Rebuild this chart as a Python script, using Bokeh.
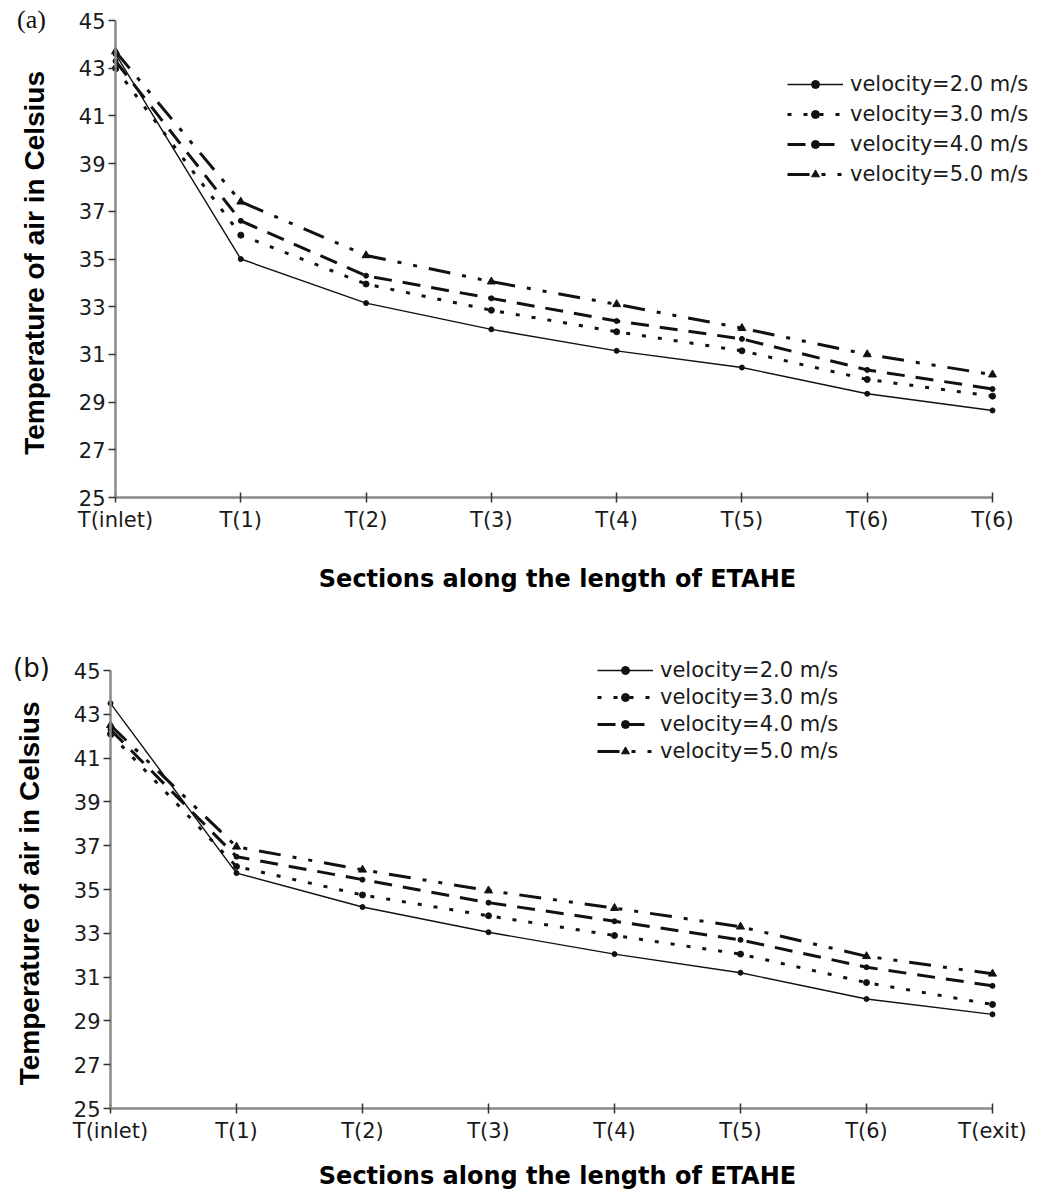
from bokeh.plotting import figure
from bokeh.models import Range1d, FixedTicker, Legend, LegendItem, Label
from bokeh.layouts import column
from bokeh.embed import file_html
from bokeh.resources import INLINE

# ---- data ----
sections = [0, 1, 2, 3, 4, 5, 6, 7]
a_tick_labels = ["T(inlet)", "T(1)", "T(2)", "T(3)", "T(4)", "T(5)", "T(6)", "T(6)"]
b_tick_labels = ["T(inlet)", "T(1)", "T(2)", "T(3)", "T(4)", "T(5)", "T(6)", "T(exit)"]
y_ticks = [25, 27, 29, 31, 33, 35, 37, 39, 41, 43, 45]
series_names = ["velocity=2.0 m/s", "velocity=3.0 m/s", "velocity=4.0 m/s", "velocity=5.0 m/s"]
x_title = "Sections along the length of ETAHE"
y_title = "Temperature of air in  Celsius"

a_v2 = [43.6, 35.0, 33.15, 32.05, 31.15, 30.45, 29.35, 28.65]
a_v3 = [43.0, 36.0, 33.95, 32.85, 31.95, 31.15, 29.95, 29.25]
a_v4 = [43.3, 36.6, 34.3, 33.35, 32.4, 31.65, 30.35, 29.55]
a_v5 = [43.7, 37.4, 35.15, 34.05, 33.1, 32.1, 31.0, 30.15]

b_v2 = [43.5, 35.75, 34.2, 33.05, 32.05, 31.2, 30.0, 29.3]
b_v3 = [42.1, 36.05, 34.75, 33.8, 32.9, 32.05, 30.75, 29.75]
b_v4 = [42.3, 36.5, 35.45, 34.4, 33.55, 32.7, 31.45, 30.6]
b_v5 = [42.5, 36.95, 35.9, 34.95, 34.15, 33.3, 31.95, 31.15]

# ---- styles ----
STYLES = [
    dict(dash="solid", width=1.4, marker="circle", size=5),
    dict(dash="4 12", width=3, marker="circle", size=6),
    dict(dash="18 11", width=3, marker="circle", size=5),
    dict(dash="22 12 4 12 4 12", width=3, marker="triangle", size=8),
]
INK = "#111111"
AXIS_GRAY = "#8a8a8a"
W = 1056


def make_fig(height, axis_x, top_px, bottom_px, tick_labels, series, panel_text, panel_font,
             panel_size, panel_xy, legend_xy, legend_spacing, title_y):
    # frame spans the whole canvas; both axes are pinned at the data origin (x=0, y=25)
    x_scale = (992 - axis_x) / 7.0
    x0 = -axis_x / x_scale
    x1 = 7 + (W - 992) / x_scale
    y_scale = (bottom_px - top_px) / 20.0
    y1 = 45 + top_px / y_scale
    y0 = 25 - (height - bottom_px) / y_scale
    p = figure(width=W, height=height, output_backend="svg", toolbar_location=None,
               x_range=Range1d(x0, x1), y_range=Range1d(y0, y1),
               min_border_left=0, min_border_right=0,
               min_border_top=0, min_border_bottom=0)
    p.outline_line_color = None
    p.xgrid.visible = False
    p.ygrid.visible = False

    p.xaxis.ticker = FixedTicker(ticks=sections)
    p.xaxis.bounds = (0, 7)
    p.xaxis.fixed_location = 25
    p.xaxis.major_label_overrides = {s: lab for s, lab in zip(sections, tick_labels)}
    p.yaxis.ticker = FixedTicker(ticks=y_ticks)
    p.yaxis.bounds = (25, 45)
    p.yaxis.fixed_location = 0
    for ax in (p.xaxis, p.yaxis):
        ax.axis_line_color = AXIS_GRAY
        ax.axis_line_width = 2.5
        ax.major_tick_line_color = "#333333"
        ax.major_tick_line_width = 1.5
        ax.minor_tick_line_color = None
        ax.major_label_text_font = "DejaVu Sans"
        ax.major_label_text_font_size = "21px"
        ax.major_label_text_color = "#1a1a1a"
        ax.axis_label_text_font_style = "bold"
        ax.axis_label_text_color = "#000000"
    p.xaxis.major_tick_in = 5
    p.xaxis.major_tick_out = 5
    p.xaxis.major_label_standoff = 5
    p.yaxis.major_tick_in = 0
    p.yaxis.major_tick_out = 7
    p.yaxis.major_label_standoff = 3

    p.yaxis.axis_label = y_title
    p.yaxis.axis_label_text_font = "Liberation Sans"
    p.yaxis.axis_label_text_font_size = "28px"
    p.yaxis.axis_label_standoff = 26

    # x-axis title, centred under the axis
    p.add_layout(Label(x=557, y=title_y, x_units="screen", y_units="screen", text=x_title,
                       text_font="DejaVu Sans", text_font_style="bold", text_font_size="24px",
                       text_color="#000000", text_align="center", text_baseline="middle"))

    items = []
    for name, ys, st in zip(series_names, series, STYLES):
        lr = p.line(sections, ys, line_color=INK, line_width=st["width"], line_dash=st["dash"])
        sr = p.scatter(sections, ys, marker=st["marker"], size=st["size"],
                       fill_color=INK, line_color=INK)
        items.append(LegendItem(label=name, renderers=[lr, sr]))

    legend = Legend(items=items, location=legend_xy, orientation="vertical",
                    border_line_color=None, background_fill_alpha=0,
                    label_text_font="DejaVu Sans", label_text_font_size="21px",
                    label_text_color="#1a1a1a", glyph_width=56, glyph_height=20,
                    label_standoff=7, spacing=legend_spacing, padding=0, margin=0)
    p.add_layout(legend, "center")

    p.add_layout(Label(x=panel_xy[0], y=panel_xy[1], x_units="screen", y_units="screen",
                       text=panel_text, text_font=panel_font, text_font_size=panel_size,
                       text_color="#111111", text_baseline="middle", text_align="center"))
    return p


pa = make_fig(600, 115, 20, 497, a_tick_labels, [a_v2, a_v3, a_v4, a_v5],
              "(a)", "Liberation Serif", "26px", (31, 581), (787, 414), 6, 22)
pb = make_fig(596, 110, 70, 508, b_tick_labels, [b_v2, b_v3, b_v4, b_v5],
              "(b)", "DejaVu Sans", "26px", (31, 529), (597, 433), 3, 21)

layout = column(pa, pb, spacing=0)
open("out.html", "w").write(file_html(layout, INLINE))
